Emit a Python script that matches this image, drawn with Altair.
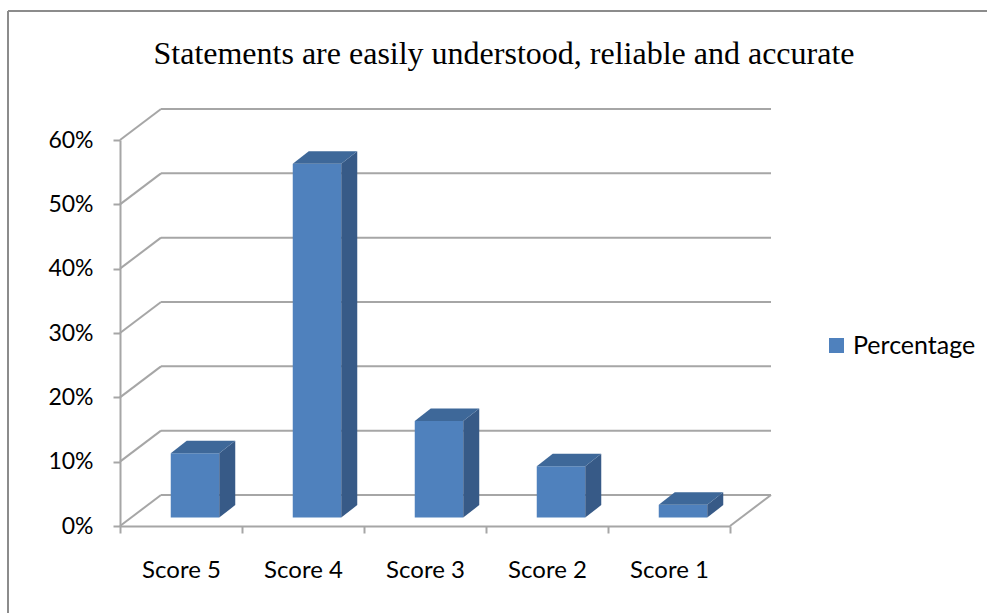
import altair as alt
import pandas as pd

# Survey result: share of respondents per score
categories = ["Score 5", "Score 4", "Score 3", "Score 2", "Score 1"]
percentages = [0.10, 0.55, 0.15, 0.08, 0.02]
y_ticks = [0.0, 0.1, 0.2, 0.3, 0.4, 0.5, 0.6]
series_name = "Percentage"
title_text = "Statements are easily understood, reliable and accurate"

# Plot geometry (pixels)
PLOT_W, PLOT_H = 610, 386
Y_MAX = 0.6
N = len(categories)
UX = N / PLOT_W          # data units per pixel, x
UY = Y_MAX / PLOT_H      # data units per pixel, y
FLOOR_DX, FLOOR_DY = 41, 31      # depth of the back wall
BAR_W, BAR_SHIFT, BAR_LIFT = 48.5, 14, 8.4
BAR_DX, BAR_DY = 16, 12.5        # depth of each bar

FRONT, SIDE, TOP = "#4F81BD", "#375A87", "#3E6899"
GRID = "#A6A6A6"

# --- tables built from the arrays above ---
bars = pd.DataFrame({"cat": categories, "value": percentages, "series": series_name})
bars["base"] = BAR_LIFT * UY
bars["top"] = bars["value"] + bars["base"]

side_rows, top_rows = [], []
for i, (c, v) in enumerate(zip(categories, percentages)):
    cx = i + 0.5 + BAR_SHIFT * UX
    xl, xr = cx - BAR_W / 2 * UX, cx + BAR_W / 2 * UX
    b = BAR_LIFT * UY
    t = v + b
    dx, dy = BAR_DX * UX, BAR_DY * UY
    side_rows += [
        {"cat": c, "px": xr, "py": t, "py2": b},
        {"cat": c, "px": xr + dx, "py": t + dy, "py2": b + dy},
    ]
    top_rows += [
        {"cat": c, "px": xl, "py": t, "py2": t},
        {"cat": c, "px": xl + dx, "py": t + dy, "py2": t},
        {"cat": c, "px": xr, "py": t + dy, "py2": t},
        {"cat": c, "px": xr + dx, "py": t + dy, "py2": t + dy},
    ]
side_df = pd.DataFrame(side_rows)
top_df = pd.DataFrame(top_rows)

grid_df = pd.DataFrame({"v": y_ticks})
grid_df["x0"] = 0.0
grid_df["x1"] = FLOOR_DX * UX
grid_df["x2"] = N + FLOOR_DX * UX
grid_df["vb"] = grid_df["v"] + FLOOR_DY * UY

floor_df = pd.DataFrame({"x": [N], "x2": [N + FLOOR_DX * UX], "y": [0.0], "y2": [FLOOR_DY * UY]})

xq = alt.Scale(domain=[0, N], nice=False, zero=False)
yq = alt.Scale(domain=[0, Y_MAX], nice=False, zero=True)

# --- back wall gridlines: slanted part and horizontal part ---
grid_slant = alt.Chart(grid_df).mark_rule(color=GRID, strokeWidth=2).encode(
    x=alt.X("x0:Q", scale=xq, axis=None),
    x2="x1:Q",
    y=alt.Y("v:Q", scale=yq),
    y2="vb:Q",
)
grid_flat = alt.Chart(grid_df).mark_rule(color=GRID, strokeWidth=2).encode(
    x=alt.X("x1:Q", scale=xq, axis=None),
    x2="x2:Q",
    y=alt.Y("vb:Q", scale=yq),
)
floor_edge = alt.Chart(floor_df).mark_rule(color=GRID, strokeWidth=2).encode(
    x=alt.X("x:Q", scale=xq, axis=None),
    x2="x2:Q",
    y=alt.Y("y:Q", scale=yq),
    y2="y2:Q",
)


def face(df, colour):
    """One filled polygon per bar, drawn as an area between py and py2."""
    return alt.Chart(df).mark_area(color=colour, interpolate="linear", opacity=1).encode(
        x=alt.X("px:Q", scale=xq, axis=None),
        y=alt.Y("py:Q", scale=yq, stack=None),
        y2="py2:Q",
        detail="cat:N",
    )


side = face(side_df, SIDE)
top = face(top_df, TOP)

# --- bar front faces, category axis, value axis and legend ---
front = alt.Chart(bars).mark_bar(width=BAR_W, xOffset=BAR_SHIFT).encode(
    x=alt.X(
        "cat:N",
        sort=categories,
        scale=alt.Scale(paddingInner=0, paddingOuter=0),
        axis=alt.Axis(
            title=None, tickBand="extent", domainColor=GRID, domainWidth=2,
            tickColor=GRID, tickWidth=2, tickSize=7, labelAngle=0,
            labelFont="Lato", labelFontSize=24, labelColor="#000000",
            labelPadding=25, grid=False,
        ),
    ),
    y=alt.Y(
        "top:Q",
        scale=yq,
        axis=alt.Axis(
            title=None, values=y_ticks, format=".0%", domainColor=GRID,
            domainWidth=2, tickColor=GRID, tickWidth=2, tickSize=7,
            labelFont="Lato", labelFontSize=23, labelColor="#000000",
            labelPadding=20, grid=False,
        ),
    ),
    y2="base:Q",
    color=alt.Color(
        "series:N",
        scale=alt.Scale(domain=[series_name], range=[FRONT]),
        legend=alt.Legend(
            title=None, orient="none", legendX=704, legendY=193,
            symbolType="square", symbolSize=225, symbolStrokeWidth=0,
            labelFont="Lato", labelFontSize=25, labelColor="#000000",
            labelOffset=4, padding=0,
        ),
    ),
)

# --- chart title and frame ---
one = pd.DataFrame({"k": [0]})
title = alt.Chart(one).mark_text(
    text=title_text, font="Liberation Serif", fontSize=32, color="#000000",
    align="center", baseline="alphabetic",
).encode(x=alt.value(384), y=alt.value(-76))

frame_top = alt.Chart(one).mark_rule(color="#8C8C8C", strokeWidth=2).encode(
    x=alt.value(-112), x2=alt.value(870), y=alt.value(-129)
)
frame_left = alt.Chart(one).mark_rule(color="#8C8C8C", strokeWidth=2).encode(
    x=alt.value(-112), y=alt.value(-129), y2=alt.value(480)
)

chart = (
    alt.layer(grid_slant, grid_flat, floor_edge, front, side, top, title, frame_top, frame_left)
    .resolve_scale(x="independent")
    .properties(
        width=PLOT_W, height=PLOT_H, autosize="none",
        padding={"left": 120, "top": 140, "right": 257, "bottom": 87},
        background="#FFFFFF",
    )
    .configure_view(stroke=None)
)

chart.save("out.html", embed_options={"renderer": "svg", "actions": False})
